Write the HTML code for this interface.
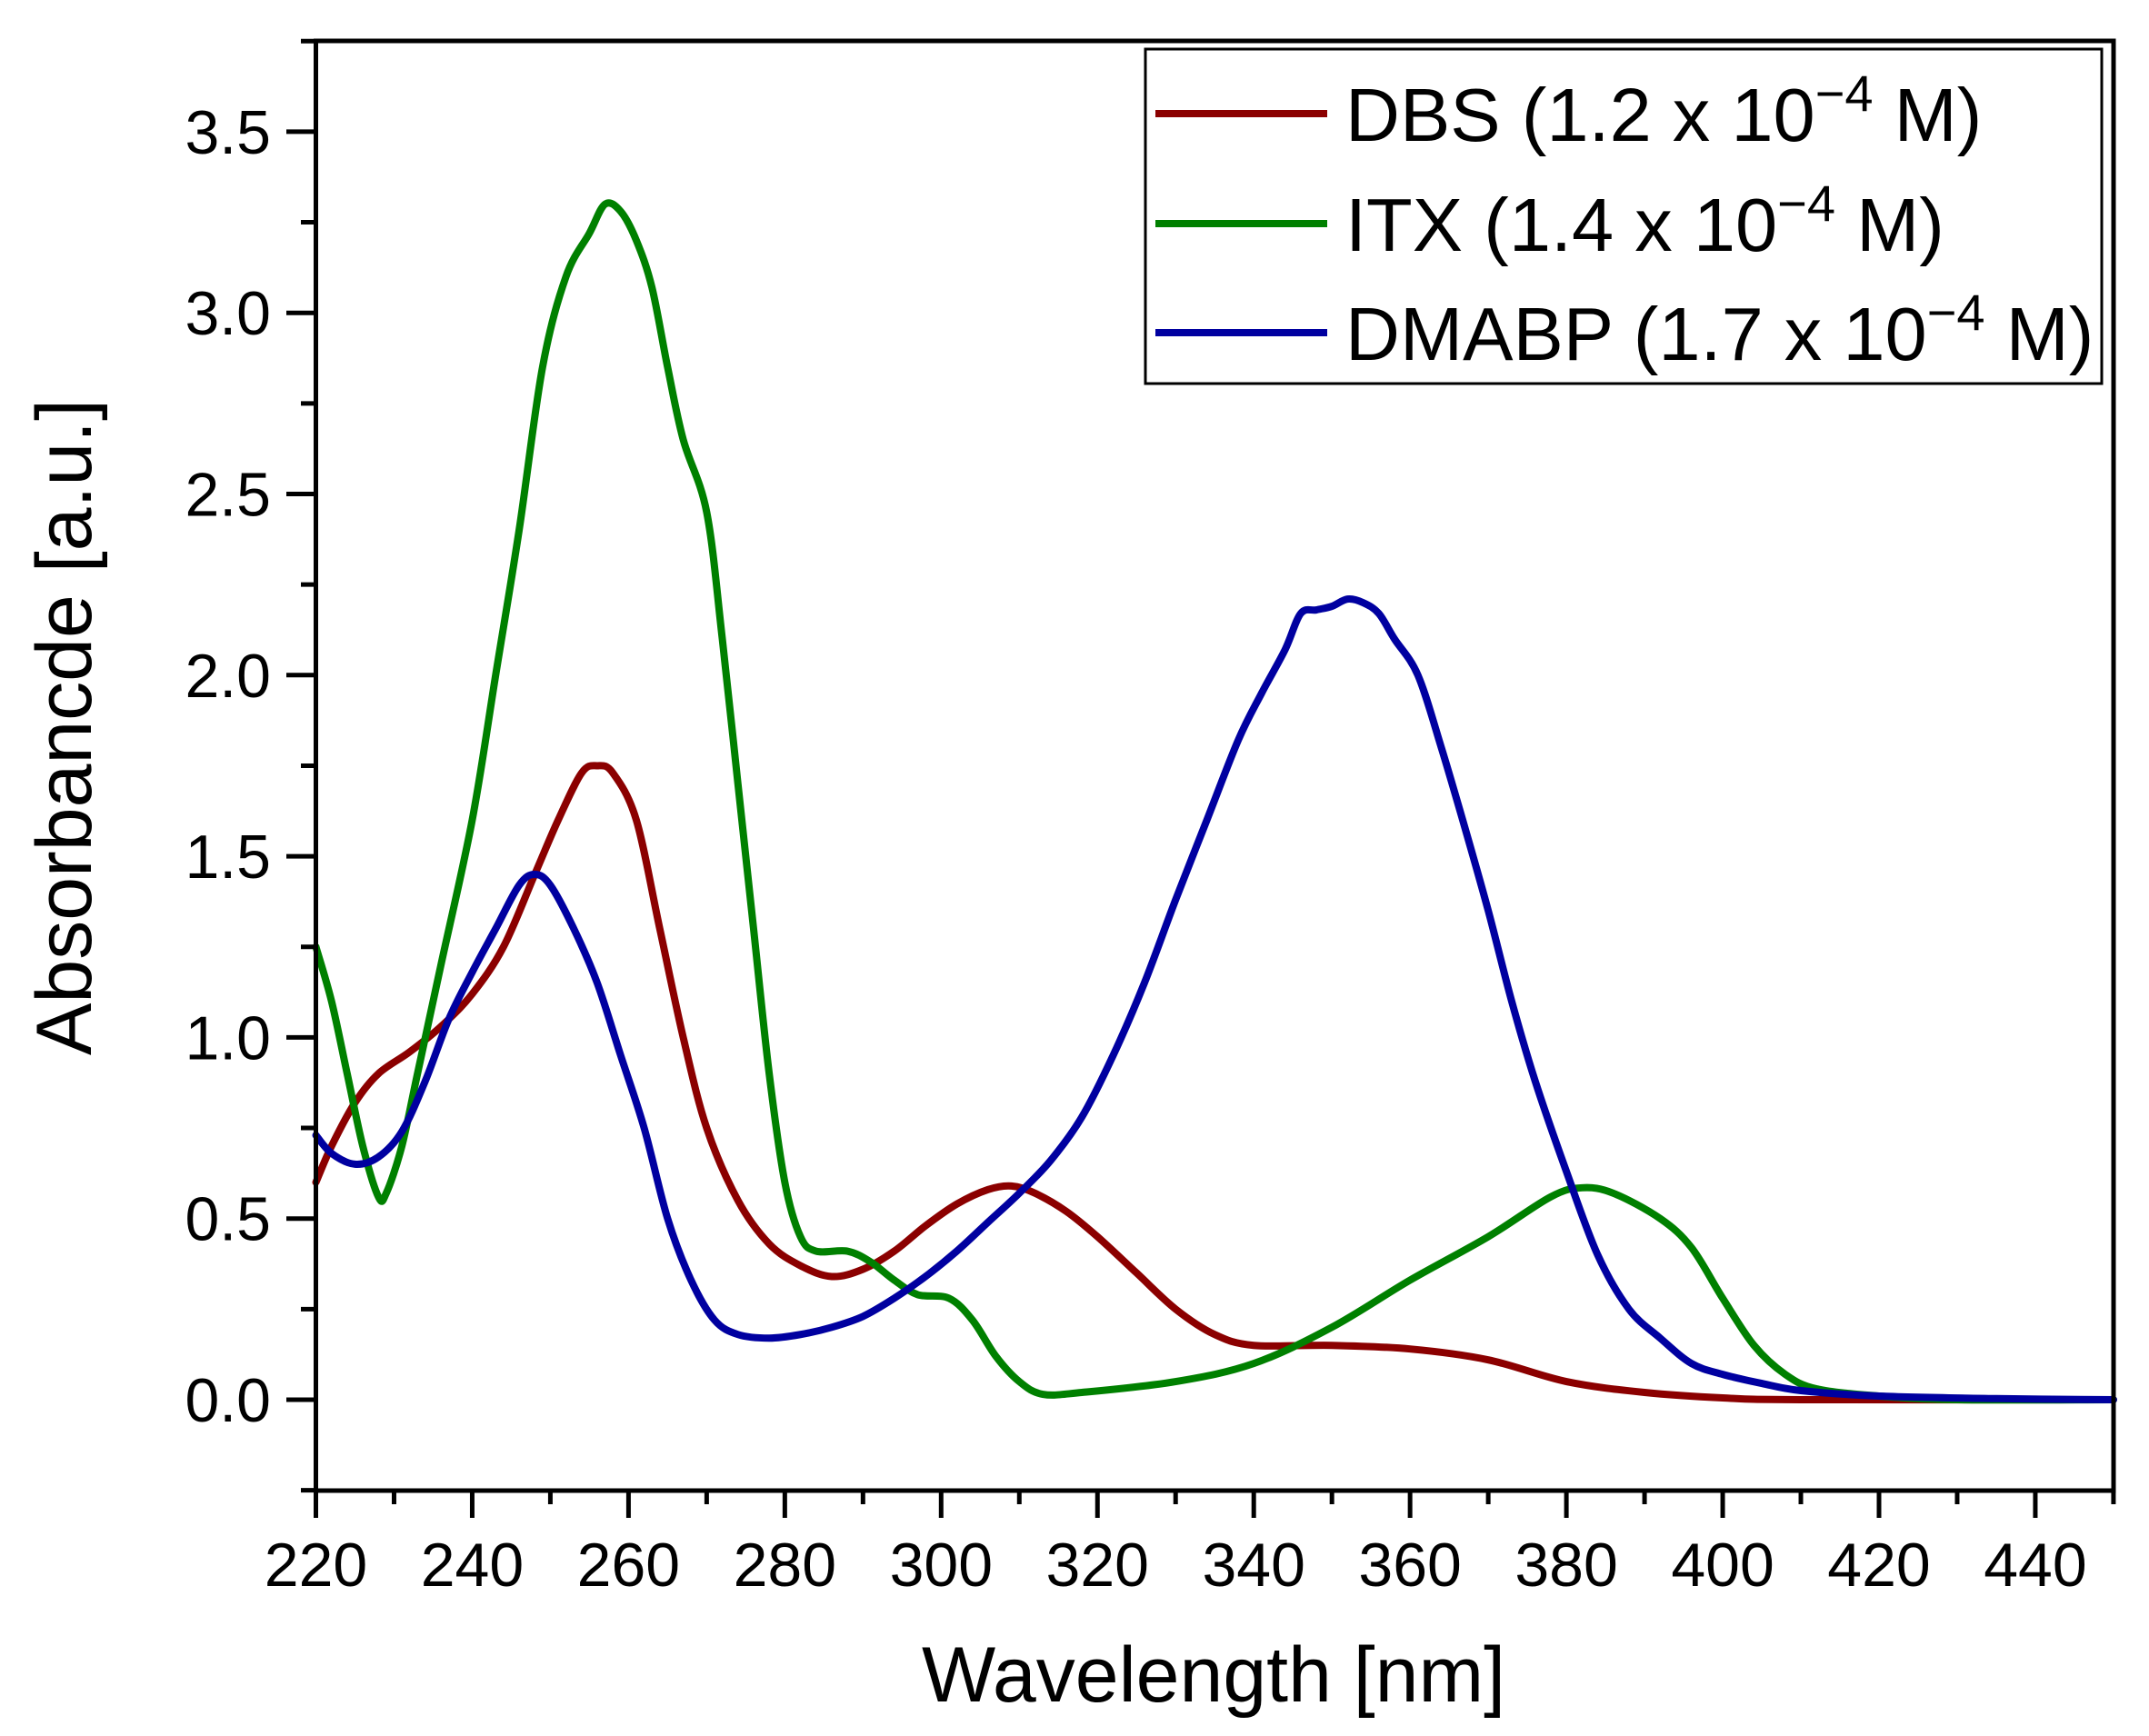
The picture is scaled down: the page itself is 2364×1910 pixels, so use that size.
<!DOCTYPE html>
<html><head><meta charset="utf-8"><style>
html,body{margin:0;padding:0;background:#fff;}
svg{display:block;font-family:"Liberation Sans",Arial,sans-serif;}
</style></head><body>
<svg id="s" width="2364" height="1910" viewBox="0 0 2364 1910" xmlns="http://www.w3.org/2000/svg">
<rect width="2364" height="1910" fill="#fff"/>
<g id="curves" fill="none" stroke-width="8" stroke-linejoin="round" stroke-linecap="round"></g>
<g id="axes" stroke="#000" stroke-width="5" fill="none"></g>
<g id="labels" font-size="68" fill="#000"></g>
<text x="1335" y="1872" font-size="86" text-anchor="middle">Wavelength [nm]</text>
<text transform="translate(100,800) rotate(-90)" font-size="86" text-anchor="middle">Absorbancde [a.u.]</text>
<rect x="1260" y="54" width="1052" height="368" fill="#fff" stroke="#000" stroke-width="3"/>
<line x1="1271" y1="125" x2="1460" y2="125" stroke="#8b0000" stroke-width="8"/>
<line x1="1271" y1="246" x2="1460" y2="246" stroke="#008000" stroke-width="8"/>
<line x1="1271" y1="366" x2="1460" y2="366" stroke="#0000a0" stroke-width="8"/>
<g font-size="83" fill="#000">
<text x="1480" y="155">DBS (1.2 x 10<tspan dy="-33" font-size="56">−4</tspan><tspan dy="33"> M)</tspan></text>
<text x="1480" y="276">ITX (1.4 x 10<tspan dy="-33" font-size="56">−4</tspan><tspan dy="33"> M)</tspan></text>
<text x="1480" y="396">DMABP (1.7 x 10<tspan dy="-33" font-size="56">−4</tspan><tspan dy="33"> M)</tspan></text>
</g>
</svg>
<script>
var NS="http://www.w3.org/2000/svg";
function X(w){return 347.5+(w-220)*171.95/20;}
function Y(v){return 1540-v*398.6;}
var axes=document.getElementById('axes'),labels=document.getElementById('labels'),cg=document.getElementById('curves');
function el(p,t,a){var e=document.createElementNS(NS,t);for(var k in a)e.setAttribute(k,a[k]);p.appendChild(e);return e;}
el(axes,'rect',{x:347.5,y:45,width:2325-347.5,height:1640-45});
for(var w=220;w<=450;w+=10){var maj=(w%20==0);el(axes,'line',{x1:X(w),y1:1640,x2:X(w),y2:maj?1670:1655});
 if(maj&&w<=440){var t=el(labels,'text',{x:X(w),y:1745,'text-anchor':'middle'});t.textContent=w;}}
for(var v=-0.25;v<=3.76;v+=0.25){var m=Math.abs((v*2)-Math.round(v*2))<1e-6;el(axes,'line',{x1:347.5,y1:Y(v),x2:m?315:331,y2:Y(v)});
 if(m&&v>=0){var t=el(labels,'text',{x:298,y:Y(v)+24,'text-anchor':'end'});t.textContent=v.toFixed(1);}}
var data={
"#8b0000":[[220,.6],[222,.7],[225,.82],[228,.9],[232,.96],[236,1.03],[240,1.12],[244,1.25],[248,1.45],[251,1.6],[254,1.73],[256,1.75],[258,1.73],[261,1.6],[264,1.3],[267,1.0],[270,.75],[274,.55],[278,.43],[282,.37],[286,.34],[290,.36],[294,.41],[298,.48],[302,.54],[306,.58],[309,.59],[312,.57],[316,.52],[320,.45],[325,.35],[330,.25],[335,.18],[340,.15],[350,.15],[360,.14],[370,.11],[380,.05],[390,.02],[400,.005],[410,0],[450,0]],
"#008000":[[220,1.25],[222,1.1],[224,.9],[226,.7],[228,.56],[229,.57],[231,.7],[233,.9],[236,1.2],[240,1.6],[243,2.0],[246,2.4],[249,2.85],[252,3.1],[255,3.22],[257,3.3],[259,3.28],[261,3.2],[263,3.07],[265,2.85],[267,2.65],[270,2.45],[272,2.1],[274,1.7],[276,1.3],[278,.9],[280,.6],[282,.45],[284,.41],[288,.41],[291,.38],[294,.33],[297,.29],[301,.28],[304,.22],[307,.12],[310,.05],[313,.015],[318,.02],[330,.05],[340,.1],[350,.2],[360,.33],[370,.45],[378,.56],[382,.585],[386,.57],[392,.5],[396,.42],[400,.28],[404,.15],[408,.07],[412,.03],[420,.01],[430,0],[450,0]],
"#0000a0":[[220,.73],[222,.68],[225,.65],[228,.67],[231,.74],[234,.88],[237,1.05],[240,1.18],[243,1.3],[246,1.42],[248,1.45],[250,1.42],[253,1.3],[256,1.15],[259,.95],[262,.75],[265,.5],[268,.33],[271,.22],[274,.18],[278,.17],[282,.18],[286,.2],[290,.23],[294,.28],[298,.34],[302,.41],[306,.49],[310,.57],[314,.66],[318,.78],[322,.95],[326,1.15],[330,1.38],[334,1.6],[338,1.82],[341,1.95],[344,2.07],[346,2.17],[348,2.18],[350,2.19],[352,2.21],[354,2.2],[356,2.17],[358,2.1],[361,2.0],[364,1.8],[367,1.58],[370,1.35],[373,1.1],[376,.88],[380,.63],[384,.4],[388,.25],[392,.17],[396,.1],[400,.07],[405,.045],[410,.025],[420,.01],[435,.003],[450,0]]};
for(var c in data){var p=data[c].map(function(q){return [X(q[0]),Y(q[1])];});
 var d="M"+p[0][0]+","+p[0][1];
 for(var i=0;i<p.length-1;i++){var p0=p[i>0?i-1:0],p1=p[i],p2=p[i+1],p3=p[i+2<p.length?i+2:i+1];
  d+=" C"+(p1[0]+(p2[0]-p0[0])/6)+","+(p1[1]+(p2[1]-p0[1])/6)+" "+(p2[0]-(p3[0]-p1[0])/6)+","+(p2[1]-(p3[1]-p1[1])/6)+" "+p2[0]+","+p2[1];}
 el(cg,'path',{d:d,stroke:c});}
</script>
</body></html>
